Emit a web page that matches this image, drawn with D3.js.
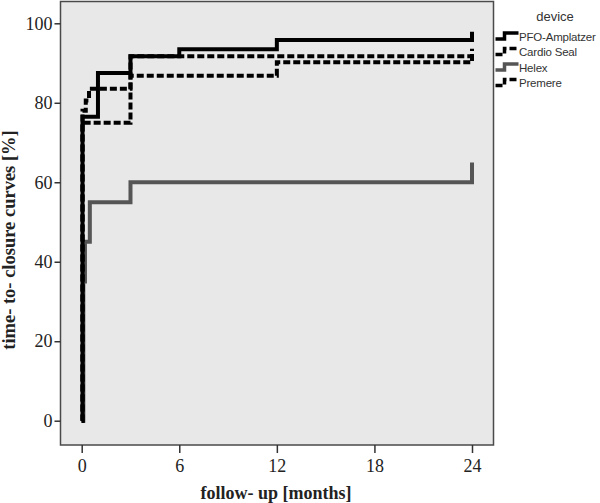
<!DOCTYPE html>
<html>
<head>
<meta charset="utf-8">
<script src="https://cdn.jsdelivr.net/npm/d3@7"></script>
<style>
  body { margin: 0; background: #fff; }
  svg { display: block; }
</style>
</head>
<body>
<script>
// device names as shown in the legend
var devices = ["PFO-Amplatzer", "Cardio Seal", "Helex", "Premere"];

// step times (months) and cumulative closure (%)
var pfoTime = [0, 0.05, 1, 3, 6, 12, 24];
var pfoRate = [0, 76.5, 87.5, 91.7, 93.5, 95.8, 97.9];

var cardioTime = [0, 0.05, 0.25, 0.45, 3, 24];
var cardioRate = [0, 78, 80.6, 83.5, 91.7, 93.6];

var helexTime = [0, 0.1, 0.2, 0.5, 3, 24];
var helexRate = [0, 35, 45, 55, 60, 65];

var premereTime = [0, 0.05, 3, 12, 24];
var premereRate = [0, 75, 86.8, 90.2, 92];

var xTicks = [0, 6, 12, 18, 24];
var yTicks = [0, 20, 40, 60, 80, 100];

var width = 600, height = 503;

var svg = d3.select("body")
  .append("svg")
  .attr("width", width)
  .attr("height", height);

var x = d3.scaleLinear().domain([0, 24]).range([81.7, 472]);
var y = d3.scaleLinear().domain([0, 100]).range([420.7, 23.3]);

// plot frame
var frame = { left: 60.5, top: 1.5, right: 493.5, bottom: 445 };
svg.append("rect")
  .attr("x", frame.left)
  .attr("y", frame.top)
  .attr("width", frame.right - frame.left)
  .attr("height", frame.bottom - frame.top)
  .attr("fill", "#e8e8e8")
  .attr("stroke", "#4a4a4a")
  .attr("stroke-width", 1.5);

// axes
var yAxis = svg.append("g")
  .attr("transform", "translate(" + frame.left + ",0)")
  .call(d3.axisLeft(y).tickValues(yTicks).tickSize(6).tickPadding(2));
var xAxis = svg.append("g")
  .attr("transform", "translate(0," + frame.bottom + ")")
  .call(d3.axisBottom(x).tickValues(xTicks).tickSize(8).tickPadding(6));

[xAxis, yAxis].forEach(function (ax) {
  ax.select(".domain").remove();
  ax.selectAll("line").attr("stroke", "#333").attr("stroke-width", 1.5);
  ax.selectAll("text")
    .attr("font-family", "Liberation Serif, serif")
    .attr("font-size", 18)
    .attr("fill", "#222");
});

// axis titles
svg.append("text")
  .attr("x", 276)
  .attr("y", 499)
  .attr("text-anchor", "middle")
  .attr("font-family", "Liberation Serif, serif")
  .attr("font-weight", "bold")
  .attr("font-size", 18)
  .attr("fill", "#222")
  .text("follow- up [months]");

svg.append("text")
  .attr("transform", "translate(15,240) rotate(-90)")
  .attr("text-anchor", "middle")
  .attr("font-family", "Liberation Serif, serif")
  .attr("font-weight", "bold")
  .attr("font-size", 18.5)
  .attr("fill", "#222")
  .text("time- to- closure curves [%]");

// series
var series = [
  { name: devices[2], t: helexTime, v: helexRate, color: "#555", dash: null },
  { name: devices[3], t: premereTime, v: premereRate, color: "#000", dash: "7,3" },
  { name: devices[1], t: cardioTime, v: cardioRate, color: "#000", dash: "7,3" },
  { name: devices[0], t: pfoTime, v: pfoRate, color: "#000", dash: null }
];

var line = d3.line()
  .x(function (d) { return x(d[0]); })
  .y(function (d) { return y(d[1]); })
  .curve(d3.curveStepAfter);

series.forEach(function (s) {
  var pts = s.t.map(function (t, i) { return [t, s.v[i]]; });
  svg.append("path")
    .datum(pts)
    .attr("d", line)
    .attr("fill", "none")
    .attr("stroke", s.color)
    .attr("stroke-width", 4)
    .attr("stroke-dasharray", s.dash);
});

// legend
svg.append("text")
  .attr("x", 555)
  .attr("y", 21)
  .attr("text-anchor", "middle")
  .attr("font-family", "Liberation Sans, Arial, sans-serif")
  .attr("font-size", 13)
  .attr("fill", "#333")
  .text("device");

var legendStyle = {
  "PFO-Amplatzer": { color: "#000", dash: null },
  "Cardio Seal": { color: "#000", dash: "7,3" },
  "Helex": { color: "#555", dash: null },
  "Premere": { color: "#000", dash: "7,3" }
};

var leg = svg.selectAll(".leg")
  .data(devices)
  .enter()
  .append("g")
  .attr("class", "leg")
  .attr("transform", function (d, i) { return "translate(495.5," + (36 + i * 15.5) + ")"; });

leg.append("path")
  .attr("d", "M0,3H9V-3H23")
  .attr("fill", "none")
  .attr("stroke", function (d) { return legendStyle[d].color; })
  .attr("stroke-width", 3.5)
  .attr("stroke-dasharray", function (d) { return legendStyle[d].dash; });

leg.append("text")
  .attr("x", 23.5)
  .attr("y", 4.5)
  .attr("font-family", "Liberation Sans, Arial, sans-serif")
  .attr("font-size", 11.5)
  .attr("letter-spacing", -0.2)
  .attr("fill", "#333")
  .text(function (d) { return d; });
</script>
</body>
</html>
